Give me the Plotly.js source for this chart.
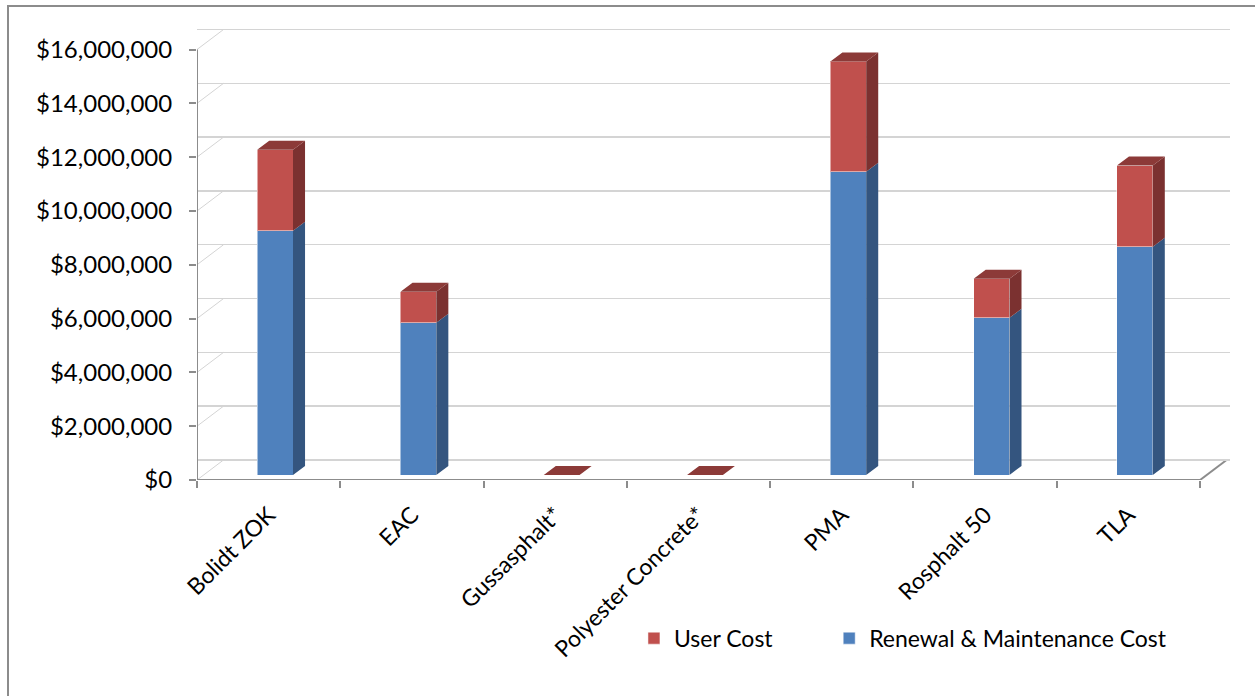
<!DOCTYPE html>
<html>
<head>
<meta charset="utf-8">
<script src="https://cdn.plot.ly/plotly-3.0.1.min.js"></script>
<style>
  html, body { margin: 0; padding: 0; background: #ffffff; }
  #frame { position: absolute; left: 7px; top: 5px; width: 1300px; height: 750px; border: 2px solid #8c8c8c; box-sizing: border-box; }
  #chart { position: absolute; left: 0; top: 0; width: 1255px; height: 696px; }
</style>
</head>
<body>
<div id="frame"></div>
<div id="chart"></div>
<script>
// ---- data ----
const categories = ["Bolidt ZOK", "EAC", "Gussasphalt*", "Polyester Concrete*", "PMA", "Rosphalt 50", "TLA"];
const renewalCost = [9080000, 5660000, 0, 0, 11270000, 5840000, 8480000];
const userCost = [3010000, 1150000, 0, 0, 4100000, 1450000, 3020000];
const yTicks = [0, 2000000, 4000000, 6000000, 8000000, 10000000, 12000000, 14000000, 16000000];
const yTickText = yTicks.map(v => "$" + v.toLocaleString("en-US"));

// ---- styling / geometry for pseudo-3D ----
const xIdx = categories.map((c, i) => i);
const barOffset = 0.045, barWidth = 0.25;
const depthX = 0.084, depthY = 335000;     // side-face depth in axis units
const wallX = 0.185, wallY = 744000;       // back-wall offset
const barDepthY = 186000;                  // bars sit slightly behind the front axis plane
const yMax = 16800000;
const blue = "#4F81BD", blueSide = "#34557F";
const red = "#C0504D", redSide = "#7B3130", redTop = "#8C3A38";
const fontFam = "Lato, 'Open Sans', sans-serif";

const xc = xIdx.map(i => i + barOffset);
const totals = renewalCost.map((v, i) => v + userCost[i]);

function polys(build) {
  const xs = [], ys = [];
  xIdx.forEach(i => {
    const p = build(i);
    if (!p) return;
    p.forEach(pt => { xs.push(pt[0]); ys.push(pt[1]); });
    xs.push(p[0][0]); ys.push(p[0][1]);
    xs.push(null); ys.push(null);
  });
  return {xs, ys};
}
const blueSidePoly = polys(i => {
  const b = renewalCost[i]; if (b <= 0) return null;
  const xr = xc[i] + barWidth / 2;
  return [[xr, 0], [xr + depthX, depthY], [xr + depthX, b + depthY], [xr, b]];
});
const redSidePoly = polys(i => {
  const b = renewalCost[i], t = totals[i]; if (t - b <= 0) return null;
  const xr = xc[i] + barWidth / 2;
  return [[xr, b], [xr + depthX, b + depthY], [xr + depthX, t + depthY], [xr, t]];
});
const topPoly = polys(i => {
  const t = totals[i];
  const xl = xc[i] - barWidth / 2, xr = xc[i] + barWidth / 2;
  return [[xl, t], [xl + depthX, t + depthY], [xr + depthX, t + depthY], [xr, t]];
});

const traces = [
  // invisible trace to activate the back-wall grid axis
  {type: "scatter", mode: "markers", x: [0], y: [0], yaxis: "y2", marker: {opacity: 0}, showlegend: false, hoverinfo: "skip"},
  {type: "bar", x: xc, y: renewalCost, width: barWidth, name: "Renewal & Maintenance Cost", yaxis: "y3", legend: "legend2",
   marker: {color: blue, line: {color: "rgba(255,255,255,0.5)", width: 1}}, hoverinfo: "y+name"},
  {type: "bar", x: xc, y: userCost, width: barWidth, name: "User Cost", yaxis: "y3", legend: "legend",
   marker: {color: red, line: {color: "rgba(255,255,255,0.5)", width: 1}}, hoverinfo: "y+name"},
  {type: "scatter", mode: "lines", x: blueSidePoly.xs, y: blueSidePoly.ys, yaxis: "y3", fill: "toself", fillcolor: blueSide,
   line: {width: 0, color: blueSide}, showlegend: false, hoverinfo: "skip"},
  {type: "scatter", mode: "lines", x: redSidePoly.xs, y: redSidePoly.ys, yaxis: "y3", fill: "toself", fillcolor: redSide,
   line: {width: 0, color: redSide}, showlegend: false, hoverinfo: "skip"},
  {type: "scatter", mode: "lines", x: topPoly.xs, y: topPoly.ys, yaxis: "y3", fill: "toself", fillcolor: redTop,
   line: {width: 0, color: redTop}, showlegend: false, hoverinfo: "skip"}
];

const shapes = [];
// y axis line
shapes.push({type: "line", xref: "x", yref: "y", x0: -0.5, x1: -0.5, y0: 0, y1: yTicks[yTicks.length - 1],
  line: {color: "#8c8c8c", width: 2}, layer: "above"});
// x axis line
shapes.push({type: "line", xref: "x", yref: "y", x0: -0.5, x1: categories.length - 0.5, y0: 0, y1: 0,
  line: {color: "#8c8c8c", width: 2}, layer: "above"});
// floor diagonal at right
shapes.push({type: "line", xref: "x", yref: "y", x0: categories.length - 0.5, x1: categories.length - 0.5 + wallX, y0: 0, y1: wallY,
  line: {color: "#8c8c8c", width: 2}, layer: "below"});
// side-wall diagonals
yTicks.forEach(v => shapes.push({type: "line", xref: "x", yref: "y", x0: -0.5, x1: -0.5 + wallX, y0: v, y1: v + wallY,
  line: {color: "#d4d4d4", width: 1}, layer: "below"}));

const legendFont = {family: fontFam, size: 23, color: "#000"};
const layout = {
  width: 1255, height: 696,
  margin: {l: 197, r: 25, t: 28, b: 216},
  paper_bgcolor: "rgba(0,0,0,0)", plot_bgcolor: "rgba(0,0,0,0)",
  barmode: "stack",
  showlegend: true,
  font: {family: fontFam, size: 20, color: "#000000"},
  xaxis: {
    type: "linear", range: [-0.5, 6.709],
    tickvals: xIdx, ticktext: categories, tickangle: -45,
    ticks: "", showgrid: false, zeroline: false, showline: false,
    ticklabelstandoff: 16,
    tickfont: {family: fontFam, size: 23, color: "#000"},
    minor: {ticks: "outside", tick0: -0.5, dtick: 1, ticklen: 7, tickwidth: 2, tickcolor: "#8c8c8c", showgrid: false}
  },
  yaxis: {
    range: [0, yMax], tickvals: yTicks, ticktext: yTickText,
    ticks: "outside", ticklen: 7, tickwidth: 2, tickcolor: "#8c8c8c",
    ticklabelstandoff: 12,
    showgrid: false, zeroline: false, showline: false,
    tickfont: {family: fontFam, size: 24, color: "#000"}
  },
  yaxis2: {
    overlaying: "y", range: [-wallY, yMax - wallY], tickvals: yTicks,
    showticklabels: false, ticks: "", showgrid: true, gridcolor: "#d4d4d4", gridwidth: 1.5,
    zeroline: false, showline: false
  },
  yaxis3: {
    overlaying: "y", range: [-barDepthY, yMax - barDepthY],
    showticklabels: false, ticks: "", showgrid: false, zeroline: false, showline: false
  },
  legend: {
    orientation: "h", x: 0.423, xanchor: "left", y: -0.35, yanchor: "middle",
    font: legendFont, bgcolor: "rgba(0,0,0,0)"
  },
  legend2: {
    orientation: "h", x: 0.612, xanchor: "left", y: -0.35, yanchor: "middle",
    font: legendFont, bgcolor: "rgba(0,0,0,0)"
  },
  shapes: shapes
};

Plotly.newPlot("chart", traces, layout, {displayModeBar: false, staticPlot: true});
</script>
</body>
</html>
